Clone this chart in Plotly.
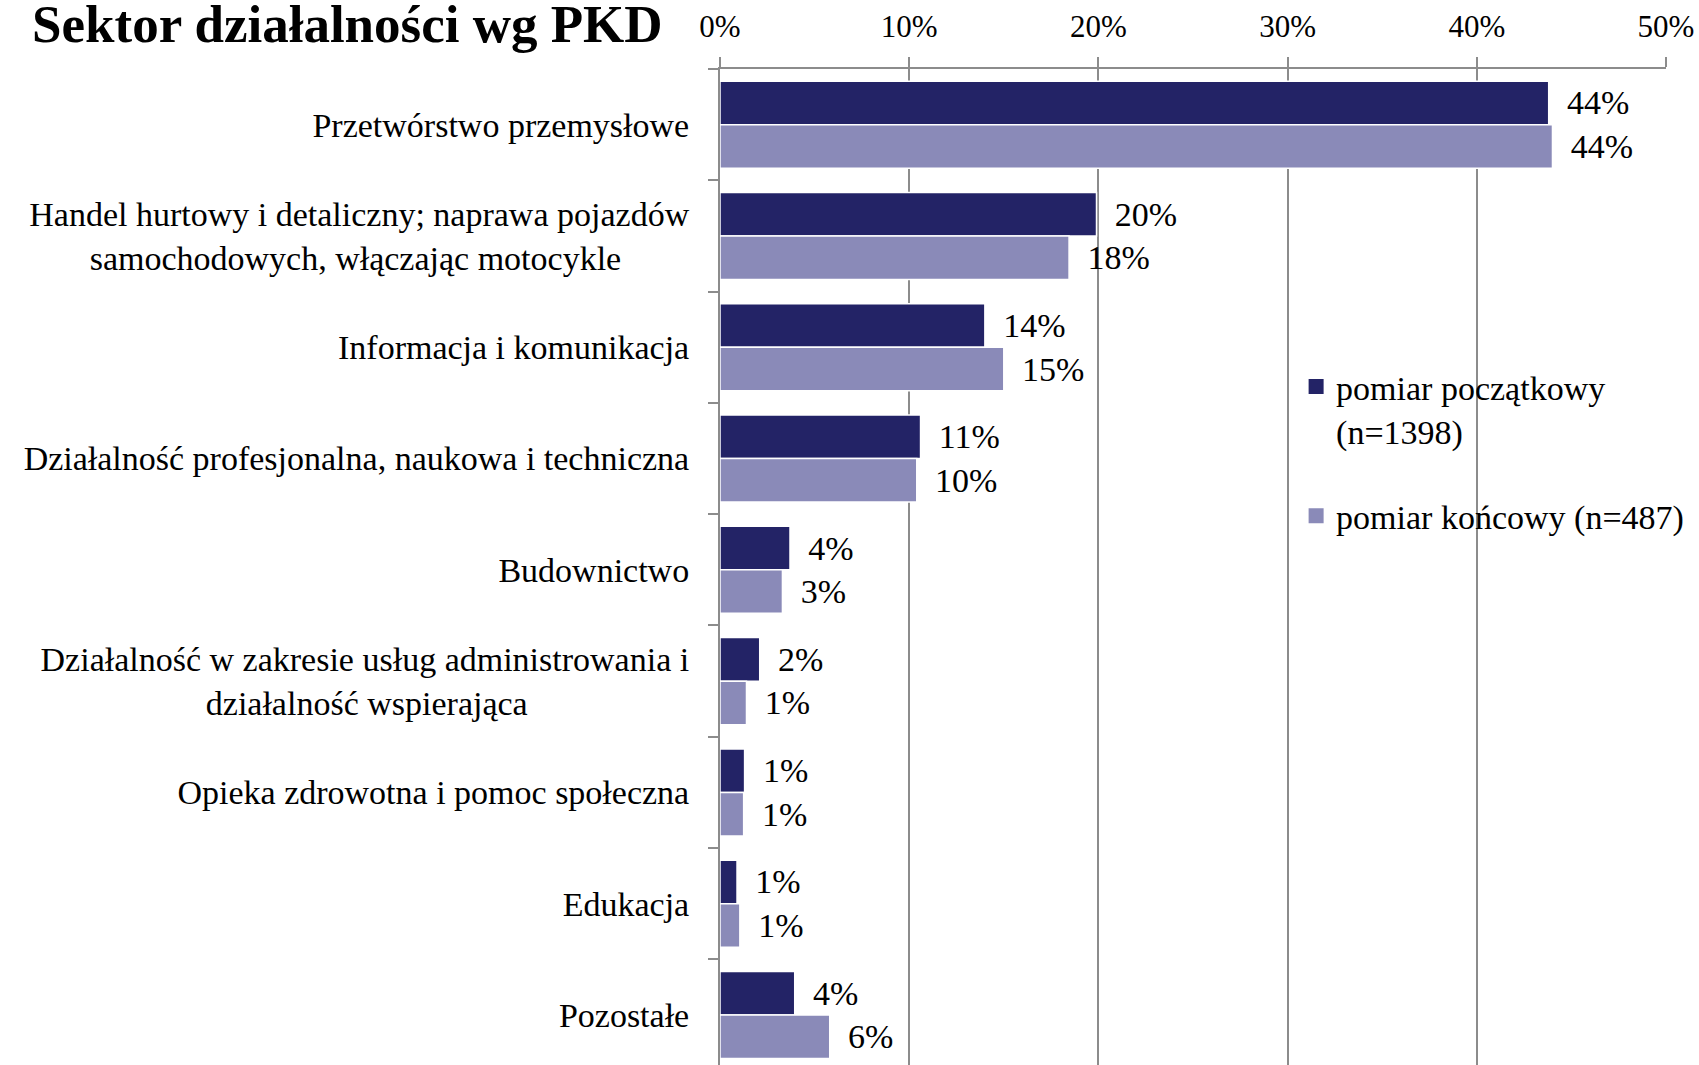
import plotly.graph_objects as go

categories = [
    "Przetwórstwo przemysłowe",
    "Handel hurtowy i detaliczny; naprawa pojazdów<br>samochodowych, włączając motocykle\u2003\u2003",
    "Informacja i komunikacja",
    "Działalność profesjonalna, naukowa i techniczna",
    "Budownictwo",
    "Działalność w zakresie usług administrowania i<br>działalność wspierająca\u2003\u2003\u2003\u2003\u00a0\u00a0\u00a0",
    "Opieka zdrowotna i pomoc społeczna",
    "Edukacja",
    "Pozostałe",
]
series_names = ["pomiar początkowy<br>(n=1398)", "pomiar końcowy (n=487)"]
poczatkowy = [43.8, 19.9, 14.0, 10.6, 3.7, 2.1, 1.3, 0.9, 3.95]
koncowy = [44.0, 18.45, 15.0, 10.4, 3.3, 1.4, 1.25, 1.05, 5.8]
x_ticks = [0, 10, 20, 30, 40, 50]
x_tick_labels = ["0%", "10%", "20%", "30%", "40%", "50%"]

colors = ["#232366", "#8a8ab8"]
FONT = "Liberation Serif, Times New Roman, serif"

fig = go.Figure()
for i, (name, vals) in enumerate(zip(series_names, [poczatkowy, koncowy])):
    fig.add_trace(go.Bar(
        y=categories, x=vals, orientation="h", name=name,
        marker=dict(color=colors[i], line=dict(color="white", width=1.5)),
        text=["\u00a0\u2009" + f"{round(v)}%" for v in vals],
        textposition="outside", cliponaxis=False,
        textfont=dict(family=FONT, size=34, color="black"),
        showlegend=False,
    ))
# legend entries (square markers like the original)
for i, name in enumerate(series_names):
    fig.add_trace(go.Scatter(
        x=[None], y=[None], mode="markers", name=name,
        marker=dict(symbol="square", size=15, color=colors[i]),
        legendgroup=f"g{i}", showlegend=True,
    ))

fig.update_layout(
    width=1699, height=1065,
    margin=dict(l=720, r=33, t=69, b=0, autoexpand=False),
    paper_bgcolor="white", plot_bgcolor="white",
    barmode="group", bargap=0.218, bargroupgap=0.0,
    font=dict(family=FONT, size=34, color="black"),
    title=dict(text="<b>Sektor działalności wg PKD</b>", x=32/1699, xanchor="left",
               y=1 - 23/1065, yanchor="middle", yref="container",
               font=dict(family=FONT, size=53, color="black")),
    legend=dict(x=0.609, xanchor="left", y=0.71, yanchor="top",
                bgcolor="rgba(0,0,0,0)", traceorder="grouped",
                tracegroupgap=38, valign="top", itemsizing="trace",
                font=dict(family=FONT, size=34, color="black")),
    showlegend=True,
)
fig.update_xaxes(
    side="top", range=[0, 50], tickvals=x_ticks, ticktext=x_tick_labels,
    showgrid=True, gridcolor="#8c8c8c", gridwidth=1.5,
    showline=True, linecolor="#8c8c8c", linewidth=2,
    ticks="outside", ticklen=10, tickcolor="#8c8c8c", tickwidth=2,
    tickfont=dict(family=FONT, size=31, color="black"),
    zeroline=False, ticklabelstandoff=8,
)
fig.update_yaxes(
    type="category", range=[8.449, -0.5],
    showline=True, linecolor="#8c8c8c", linewidth=2,
    ticks="outside", ticklen=10, tickcolor="#8c8c8c", tickwidth=2,
    tickson="boundaries", showgrid=False,
    tickfont=dict(family=FONT, size=34, color="black"),
    ticklabelstandoff=22,
)

fig.write_html("out.html", config={"displayModeBar": False},
               post_script="document.body.style.margin='0';document.body.style.overflow='hidden';")
